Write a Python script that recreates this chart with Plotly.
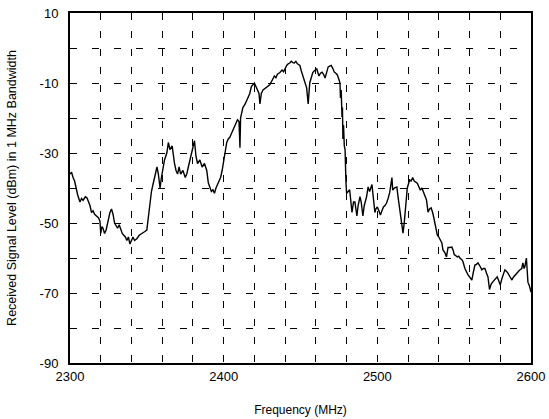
import plotly.graph_objects as go

# Frequency (MHz) and received level (dBm in 1 MHz bandwidth)
freq_mhz = [
    2300, 2301, 2302, 2303, 2304, 2305, 2306.5, 2307.5, 2308.5, 2310, 2311, 2312, 2313, 2314, 2315, 2316,
    2317.5, 2318.5, 2319.5, 2320, 2320.8, 2321.5, 2322.5, 2323.5, 2324.5, 2325, 2326, 2327, 2328, 2329, 2330,
    2331, 2332, 2333, 2334, 2335, 2336, 2337, 2338, 2339, 2340, 2341, 2342, 2343.5, 2345, 2347, 2348.5, 2350,
    2351, 2352, 2353, 2354, 2355, 2356, 2356.6, 2357.5, 2358.6, 2359.5, 2360.5, 2361.5, 2363, 2364, 2365,
    2366.5, 2368, 2369, 2370, 2371, 2372, 2373.5, 2375, 2376, 2377, 2378.5, 2380, 2381, 2382, 2383, 2384.5,
    2386, 2387.5, 2389, 2390, 2391, 2392, 2393, 2394, 2395, 2396.5, 2398, 2399, 2400, 2401, 2402, 2403, 2404,
    2405, 2406, 2407, 2408, 2409, 2410, 2410.6, 2411, 2412.5, 2414, 2415, 2416, 2417, 2418, 2419, 2420, 2421,
    2422, 2423, 2423.6, 2424.5, 2425.6, 2427, 2429, 2430, 2431, 2432, 2433, 2434, 2435, 2436.6, 2438, 2439,
    2440, 2441, 2442, 2443, 2444, 2445, 2446, 2447, 2448, 2449.6, 2450.5, 2451.6, 2452.5, 2454, 2455, 2456,
    2457, 2458, 2459, 2460.6, 2462, 2463, 2464, 2465, 2466, 2467, 2468, 2469, 2470, 2471, 2472, 2473, 2474,
    2475, 2475.7, 2476, 2476.5, 2477, 2477.3, 2477.6, 2478, 2478.5, 2479, 2479.6, 2480, 2481, 2482, 2483.5,
    2484.5, 2485.4, 2486.7, 2487.5, 2488.7, 2489.5, 2490.6, 2491.5, 2493, 2494, 2495, 2496.5, 2497.5, 2498.4,
    2499, 2500, 2501, 2502, 2503, 2504, 2505, 2506, 2507, 2508, 2509.5, 2510, 2511, 2512.7, 2513.5, 2514.7,
    2515.5, 2516.7, 2517.5, 2518.5, 2519.5, 2521, 2522, 2523, 2524, 2526, 2527, 2528, 2529, 2530, 2532, 2533,
    2534, 2535, 2536, 2537, 2538, 2539, 2540, 2541, 2542, 2542.7, 2544, 2545, 2546, 2547, 2548.5, 2549.5,
    2550, 2551, 2552, 2553, 2553.7, 2555, 2555.7, 2557, 2558, 2559, 2560, 2561.5, 2562.5, 2563.5, 2564.5,
    2565.5, 2567, 2568, 2569, 2570, 2571, 2572, 2573, 2574, 2575, 2576.5, 2578, 2579, 2580, 2581, 2582, 2583,
    2584, 2585, 2586.5, 2587.6, 2588.5, 2589.5, 2590.5, 2591.5, 2592.5, 2594, 2594.7, 2595.5, 2596, 2597,
    2598, 2599, 2600,
]
level_dbm = [
    -36, -35.5, -37, -38, -40, -42, -44, -43, -43.5, -42.5, -42.8, -44, -45, -47, -46.5, -47.5,
    -48, -48.5, -49.5, -53, -51, -51.5, -53, -52, -50, -49, -47, -46, -47.5, -50, -51,
    -51.5, -50.5, -52, -53, -53.5, -54, -55, -54, -56, -55, -54, -55, -54.5, -53.5, -53, -52.5, -52,
    -48, -44, -41, -39, -37, -35, -34, -36, -40, -37, -34, -32, -30, -27, -29,
    -28, -33, -35, -36, -34, -36, -35, -37, -36, -34, -31, -29, -26.5, -31, -33, -32,
    -34, -33, -35, -38.5, -40, -41, -40.5, -41.5, -40, -38.5, -37, -35, -32, -30, -27, -26, -25.5,
    -24.5, -23.5, -22.5, -21.5, -20.5, -21, -28.5, -20, -17, -16, -15, -14, -13, -11, -10.5, -10, -11,
    -12, -13, -16, -13, -12, -11.5, -11, -10.5, -9.7, -9, -8, -8.5, -7.5, -7, -6.3, -6.8,
    -5.7, -5, -4.5, -4.3, -3.8, -4.2, -4.3, -3.8, -4.5, -5, -6.5, -8, -9.5, -11.4, -16, -10,
    -8.5, -7, -6.5, -6, -8, -7.2, -6.9, -7.5, -8.6, -7, -5.4, -5.2, -5, -5.8, -6.9, -7.2, -7.7,
    -9, -10, -14.3, -12, -19.7, -17, -26, -22, -28, -29, -38.6, -41.5, -41, -40.5, -47,
    -44, -44, -48, -45, -42.5, -44, -48, -45, -42.5, -39.7, -41, -39, -43, -47,
    -46, -45.4, -46.5, -47.7, -46.5, -45.4, -45, -44.3, -43, -41.4, -37, -40.6, -40, -39.7, -42.6, -47,
    -50, -52.9, -50, -45, -40, -37.7, -38, -37, -38, -38.6, -39.5, -40.6, -40, -41, -43.4, -46.9,
    -46, -45.7, -47, -49, -51, -53.4, -54, -55, -55.7, -57.7, -58.5, -59.7, -57, -57, -56.9, -58,
    -59, -59.3, -59.7, -59.5, -60, -60.5, -61, -63, -64, -64.8, -65.4, -66.3, -64, -62, -61.8,
    -61.4, -62.5, -63.4, -63, -63, -64.3, -65.4, -69, -67.5, -66.9, -66, -65.4, -66.5, -67.7, -66, -64.5, -63.4,
    -63.8, -64.3, -65.5, -66.3, -65.5, -64.9, -64.5, -64, -63.5, -63, -61.4, -63, -62.5, -60,
    -66.9, -68, -69.7,
]

x_grid = list(range(2300, 2601, 20))
x_labels = [str(v) if v % 100 == 0 else "" for v in x_grid]
y_grid = list(range(-90, 11, 10))
y_labels = [str(v) if (v + 90) % 20 == 0 else "" for v in y_grid]

font_family = "Liberation Sans, Arial, sans-serif"

fig = go.Figure()
fig.add_trace(go.Scatter(
    x=freq_mhz, y=level_dbm, mode="lines",
    line=dict(color="black", width=1.4),
    showlegend=False, hoverinfo="skip",
))

fig.update_layout(
    width=549, height=419,
    margin=dict(l=70, r=18, t=13, b=56),
    paper_bgcolor="white", plot_bgcolor="white",
    font=dict(family=font_family, color="black", size=12),
    xaxis=dict(
        range=[2300, 2600], tickvals=x_grid, ticktext=x_labels,
        showgrid=True, gridcolor="black", gridwidth=1, griddash="7px,11px",
        showline=True, linecolor="black", linewidth=1.5, mirror=True,
        ticks="", zeroline=False, ticklabelstandoff=1, automargin=False,
        tickfont=dict(size=13),
        title=dict(text="Frequency (MHz)", font=dict(size=12), standoff=22),
    ),
    yaxis=dict(
        range=[-90, 10], tickvals=y_grid, ticktext=y_labels,
        showgrid=True, gridcolor="black", gridwidth=1, griddash="7px,15px",
        showline=True, linecolor="black", linewidth=2, mirror=True,
        ticks="", zeroline=False, ticklabelstandoff=7, automargin=False,
        tickfont=dict(size=13),
        title=dict(text="Received Signal Level (dBm) in 1 MHz Bandwidth", font=dict(size=12.5), standoff=20),
    ),
)

fig.write_html("out.html")
